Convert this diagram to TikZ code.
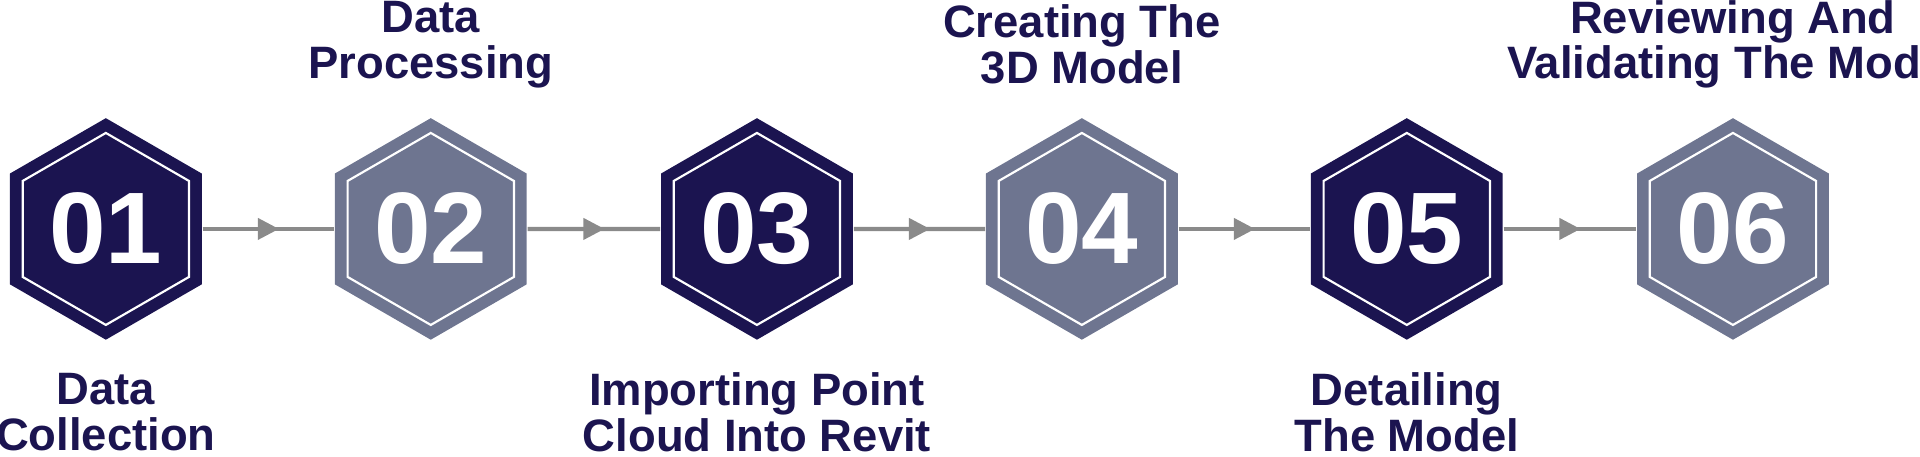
\documentclass[tikz,border=0pt]{standalone}
\usepackage{fontspec}
\setmainfont{Liberation Sans}
\usetikzlibrary{shapes.geometric,decorations.markings,arrows.meta}
\definecolor{navy}{HTML}{1B1450}
\definecolor{slate}{HTML}{6E7590}
\definecolor{wire}{HTML}{8A8A8A}
\tikzset{
  hex/.style={regular polygon,regular polygon sides=6,shape border rotate=30,
    minimum size=1.8cm,inner sep=0pt,fill=#1,text=white,
    font=\fontsize{23.5}{26}\selectfont\bfseries},
  rim/.style={regular polygon,regular polygon sides=6,shape border rotate=30,
    minimum size=1.56cm,inner sep=0pt,draw=white,line width=0.5pt},
  stage/.style={align=center,text=navy,font=\fontsize{10.5}{10.6}\selectfont\bfseries},
  link/.style={draw=wire,line width=1pt,postaction={decorate},
    decoration={markings,mark=at position 0.5 with {\fill[wire] (-0.085,-0.09) -- (0.085,0) -- (-0.085,0.09) -- cycle;}}}
}
\begin{document}
\begin{tikzpicture}
\useasboundingbox (0,0) rectangle (15.6,3.71);
\foreach \i/\x/\c in {1/0.86/navy,2/3.50/slate,3/6.15/navy,4/8.79/slate,5/11.43/navy,6/14.08/slate}{
  \node[hex=\c] (h\i) at (\x,1.85) {0\i};
  \node[rim] (r\i) at (\x,1.85) {};
}
\foreach \a/\b in {1/2,2/3,3/4,4/5,5/6}
  \path[link] (h\a.east) -- (h\b.west);
\node[stage] (t1) at (0.86,0.36) {Data\\Collection};
\node[stage] (t2) at (3.50,3.35) {Data\\Processing};
\node[stage] (t3) at (6.15,0.36) {Importing Point\\Cloud Into Revit};
\node[stage] (t4) at (8.79,3.35) {Creating The\\3D Model};
\node[stage] (t5) at (11.43,0.36) {Detailing\\The Model};
\node[stage] (t6) at (14.08,3.35) {Reviewing And\\Validating The Model};
\end{tikzpicture}
\end{document}
